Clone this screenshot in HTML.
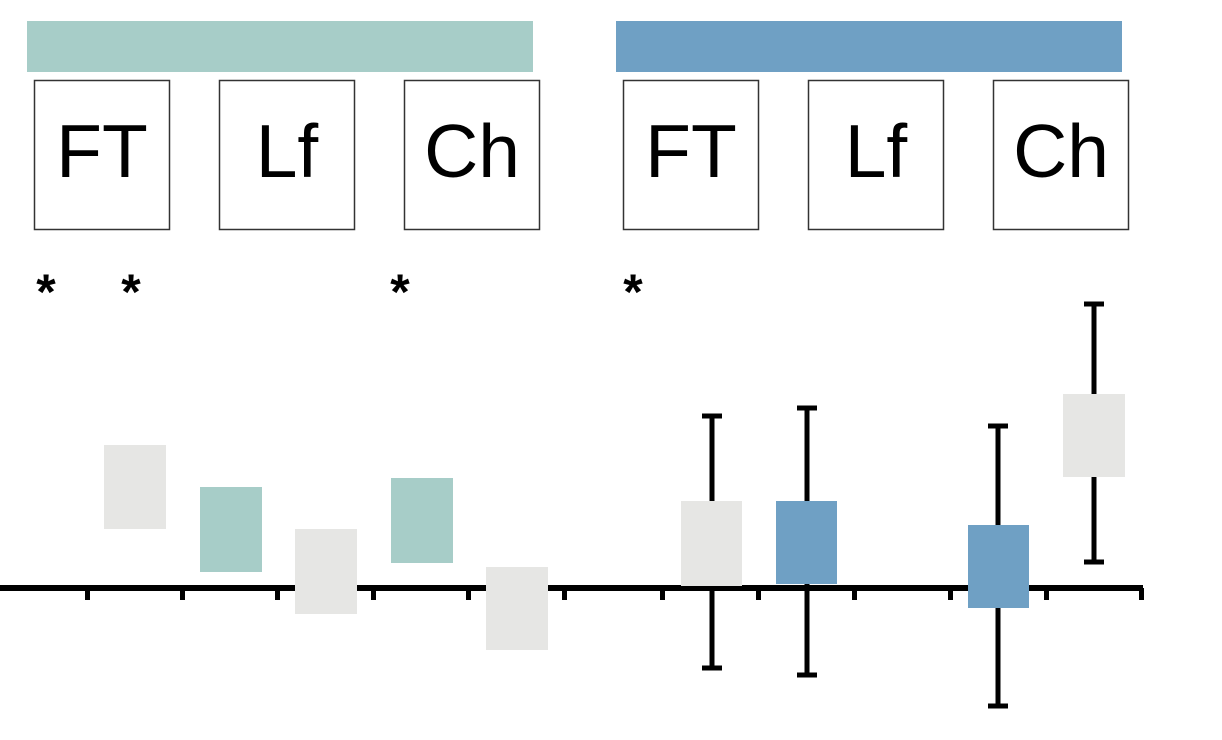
<!DOCTYPE html>
<html><head><meta charset="utf-8"><style>
html,body{margin:0;padding:0;background:#fff;}
svg{display:block;}
</style></head><body>
<svg width="1222" height="740" viewBox="0 0 1222 740" xmlns="http://www.w3.org/2000/svg">
<rect x="27" y="21" width="506" height="51" fill="#a7cdc8"/>
<rect x="616" y="21" width="506" height="51" fill="#6fa0c4"/>
<g fill="#fff" stroke="#333" stroke-width="1.5">
<rect x="34.5" y="80.5" width="135" height="149"/>
<rect x="219.5" y="80.5" width="135" height="149"/>
<rect x="404.5" y="80.5" width="135" height="149"/>
<rect x="623.5" y="80.5" width="135" height="149"/>
<rect x="808.5" y="80.5" width="135" height="149"/>
<rect x="993.5" y="80.5" width="135" height="149"/>
</g>
<g font-family="Liberation Sans, sans-serif" font-size="75" text-anchor="middle" fill="#000">
<text x="102" y="177">FT</text>
<text x="287" y="177">Lf</text>
<text x="472" y="177">Ch</text>
<text x="691" y="177">FT</text>
<text x="876" y="177">Lf</text>
<text x="1061" y="177">Ch</text>
</g>
<g font-family="Liberation Sans, sans-serif" font-size="50" font-weight="bold" text-anchor="middle" fill="#000">
<text x="46" y="309">*</text>
<text x="131" y="309">*</text>
<text x="400" y="309">*</text>
<text x="633" y="309">*</text>
</g>
<g stroke="#000" stroke-width="5">
<line x1="712" y1="416" x2="712" y2="668"/><line x1="702" y1="416" x2="722" y2="416"/><line x1="702" y1="668" x2="722" y2="668"/>
<line x1="807" y1="408" x2="807" y2="675"/><line x1="797" y1="408" x2="817" y2="408"/><line x1="797" y1="675" x2="817" y2="675"/>
<line x1="998" y1="426" x2="998" y2="706"/><line x1="988" y1="426" x2="1008" y2="426"/><line x1="988" y1="706" x2="1008" y2="706"/>
<line x1="1094" y1="304" x2="1094" y2="562"/><line x1="1084" y1="304" x2="1104" y2="304"/><line x1="1084" y1="562" x2="1104" y2="562"/>
</g>
<rect x="0" y="585" width="1143" height="6" fill="#000"/>
<g fill="#000">
<rect x="85" y="588" width="5" height="12"/>
<rect x="180" y="588" width="5" height="12"/>
<rect x="275" y="588" width="5" height="12"/>
<rect x="371" y="588" width="5" height="12"/>
<rect x="466" y="588" width="5" height="12"/>
<rect x="562" y="588" width="5" height="12"/>
<rect x="660" y="588" width="5" height="12"/>
<rect x="756" y="588" width="5" height="12"/>
<rect x="852" y="588" width="5" height="12"/>
<rect x="948" y="588" width="5" height="12"/>
<rect x="1044" y="588" width="5" height="12"/>
<rect x="1139" y="588" width="5" height="12"/>
</g>
<rect x="104" y="445" width="62" height="84" fill="#e6e6e4"/>
<rect x="200" y="487" width="62" height="85" fill="#a7cdc8"/>
<rect x="295" y="529" width="62" height="85" fill="#e6e6e4"/>
<rect x="391" y="478" width="62" height="85" fill="#a7cdc8"/>
<rect x="486" y="567" width="62" height="83" fill="#e6e6e4"/>
<rect x="681" y="501" width="61" height="85" fill="#e6e6e4"/>
<rect x="776" y="501" width="61" height="83" fill="#6fa0c4"/>
<rect x="968" y="525" width="61" height="83" fill="#6fa0c4"/>
<rect x="1063" y="394" width="62" height="83" fill="#e6e6e4"/>
</svg>
</body></html>
